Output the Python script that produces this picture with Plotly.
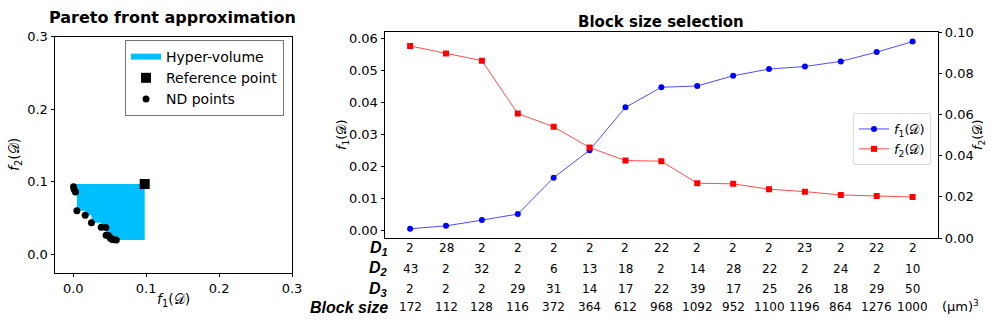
import plotly.graph_objects as go

# block configurations (one per column of the table)
d1 = [2, 28, 2, 2, 2, 2, 2, 22, 2, 2, 2, 23, 2, 22, 2]
d2 = [43, 2, 32, 2, 6, 13, 18, 2, 14, 28, 22, 2, 24, 2, 10]
d3 = [2, 2, 2, 29, 31, 14, 17, 22, 39, 17, 25, 26, 18, 29, 50]
block_size = [172, 112, 128, 116, 372, 364, 612, 968, 1092, 952, 1100, 1196, 864, 1276, 1000]

# objective values
f1 = [0.0004, 0.0013, 0.0031, 0.0050, 0.0164, 0.0250, 0.0384, 0.0447,
      0.0451, 0.0483, 0.0504, 0.0512, 0.0528, 0.0557, 0.0590]
f2 = [0.0932, 0.0896, 0.0861, 0.0604, 0.0540, 0.0439, 0.0376, 0.0373,
      0.0266, 0.0263, 0.0237, 0.0225, 0.0209, 0.0204, 0.0199]

ref_point = [0.098, 0.097]

W, H = 991, 324
FONT = "DejaVu Sans"
F = "<i>f</i><sub>%d</sub>(𝒟)"


def px(x):
    return x / W


def py(y):
    return 1 - y / H


# staircase outline of the dominated region (hyper-volume)
pts = sorted(zip(f1, f2))
hv_x = [pts[0][0]]
hv_y = [ref_point[1]]
for i, (a, b) in enumerate(pts):
    hv_x.append(a)
    hv_y.append(b)
    if i + 1 < len(pts):
        hv_x.append(pts[i + 1][0])
        hv_y.append(b)
hv_x += [ref_point[0], ref_point[0]]
hv_y += [pts[-1][1], ref_point[1]]

fig = go.Figure()

# --- left: Pareto front ---
fig.add_trace(go.Scatter(x=hv_x, y=hv_y, fill="toself", mode="none",
                         fillcolor="#00bfff", name="Hyper-volume",
                         xaxis="x", yaxis="y", legend="legend"))
fig.add_trace(go.Scatter(x=[ref_point[0]], y=[ref_point[1]], mode="markers",
                         marker=dict(symbol="square", size=10, color="black"),
                         name="Reference point", xaxis="x", yaxis="y", legend="legend"))
fig.add_trace(go.Scatter(x=f1, y=f2, mode="markers",
                         marker=dict(size=7, color="black"),
                         name="ND points", xaxis="x", yaxis="y", legend="legend"))

# --- right: block size selection ---
idx = list(range(len(f1)))
fig.add_trace(go.Scatter(x=idx, y=f1, mode="lines+markers", name=F % 1,
                         line=dict(color="rgba(0,0,255,0.7)", width=1),
                         marker=dict(color="#0000ff", size=6),
                         xaxis="x2", yaxis="y2", legend="legend2"))
fig.add_trace(go.Scatter(x=idx, y=f2, mode="lines+markers", name=F % 2,
                         line=dict(color="rgba(255,0,0,0.7)", width=1),
                         marker=dict(color="#ff0000", size=6, symbol="square"),
                         xaxis="x2", yaxis="y3", legend="legend2"))

ax = dict(showline=True, linecolor="black", linewidth=1, mirror=True,
          ticks="outside", ticklen=3.5, tickcolor="black", showgrid=False,
          zeroline=False, tickfont=dict(size=13, color="black"))

fig.update_layout(
    width=W, height=H,
    margin=dict(l=0, r=0, t=0, b=0, autoexpand=False),
    paper_bgcolor="white", plot_bgcolor="white",
    font=dict(family=FONT, color="black"),
    xaxis=dict(ax, domain=[px(55), px(292)], range=[-0.025, 0.3],
               tickvals=[0, 0.1, 0.2, 0.3], tickformat=".1f", anchor="y"),
    yaxis=dict(ax, domain=[py(272.7), py(36.7)], range=[-0.025, 0.3],
               tickvals=[0, 0.1, 0.2, 0.3], tickformat=".1f", anchor="x"),
    xaxis2=dict(ax, domain=[px(385), px(937.7)], range=[-0.7, 14.7],
                showticklabels=False, ticks="", anchor="y2"),
    yaxis2=dict(ax, domain=[py(238), py(32)], range=[-0.0025, 0.062],
                tickvals=[0, 0.01, 0.02, 0.03, 0.04, 0.05, 0.06],
                tickformat=".2f", anchor="x2", mirror=False),
    yaxis3=dict(ax, overlaying="y2", side="right", range=[0, 0.1],
                tickvals=[0, 0.02, 0.04, 0.06, 0.08, 0.1],
                tickformat=".2f", anchor="x2", mirror=False),
    legend=dict(x=px(284), y=py(40), xanchor="right", yanchor="top",
                bgcolor="white", bordercolor="#777", borderwidth=1,
                font=dict(size=14), tracegroupgap=0),
    legend2=dict(x=px(931), y=py(113), xanchor="right", yanchor="top",
                 bgcolor="white", bordercolor="#ddd", borderwidth=1,
                 font=dict(size=13)),
)

ann = []
# titles
ann.append(dict(text="<b>Pareto front approximation</b>", x=px(172), y=py(17),
                font=dict(size=16)))
ann.append(dict(text="<b>Block size selection</b>", x=px(661), y=py(22),
                font=dict(size=15)))
# axis titles
ann.append(dict(text=F % 1, x=px(173), y=py(300), font=dict(size=14)))
ann.append(dict(text=F % 2, x=px(15), y=py(155), textangle=-90, font=dict(size=14)))
ann.append(dict(text=F % 1, x=px(342), y=py(135), textangle=-90, font=dict(size=13)))
ann.append(dict(text=F % 2, x=px(978), y=py(135), textangle=-90, font=dict(size=13)))

# table under the right plot
LBL = dict(size=16, family="Liberation Sans")
rows = [("<b><i>D<sub>1</sub></i></b>", d1, 248),
        ("<b><i>D<sub>2</sub></i></b>", d2, 268.5),
        ("<b><i>D<sub>3</sub></i></b>", d3, 289),
        ("<b><i>Block size</i></b>", block_size, 307)]
for label, vals, yy in rows:
    ann.append(dict(text=label, x=px(390), y=py(yy), xanchor="right", font=LBL))
    for i, v in enumerate(vals):
        ann.append(dict(text=str(v), x=i, xref="x2", y=py(yy), yref="paper",
                        font=dict(size=12)))
ann.append(dict(text="(μm)<sup>3</sup>", x=px(940), y=py(306), xanchor="left",
                font=dict(size=13)))

for a in ann:
    a.setdefault("xref", "paper")
    a.setdefault("yref", "paper")
    a.setdefault("yanchor", "middle")
    a.setdefault("xanchor", "center")
    a["showarrow"] = False
fig.update_layout(annotations=ann)

# the page's default body margin would push the figure off by 8px
fig.write_html("out.html", config={"displayModeBar": False},
               post_script="document.body.style.margin='0';")
